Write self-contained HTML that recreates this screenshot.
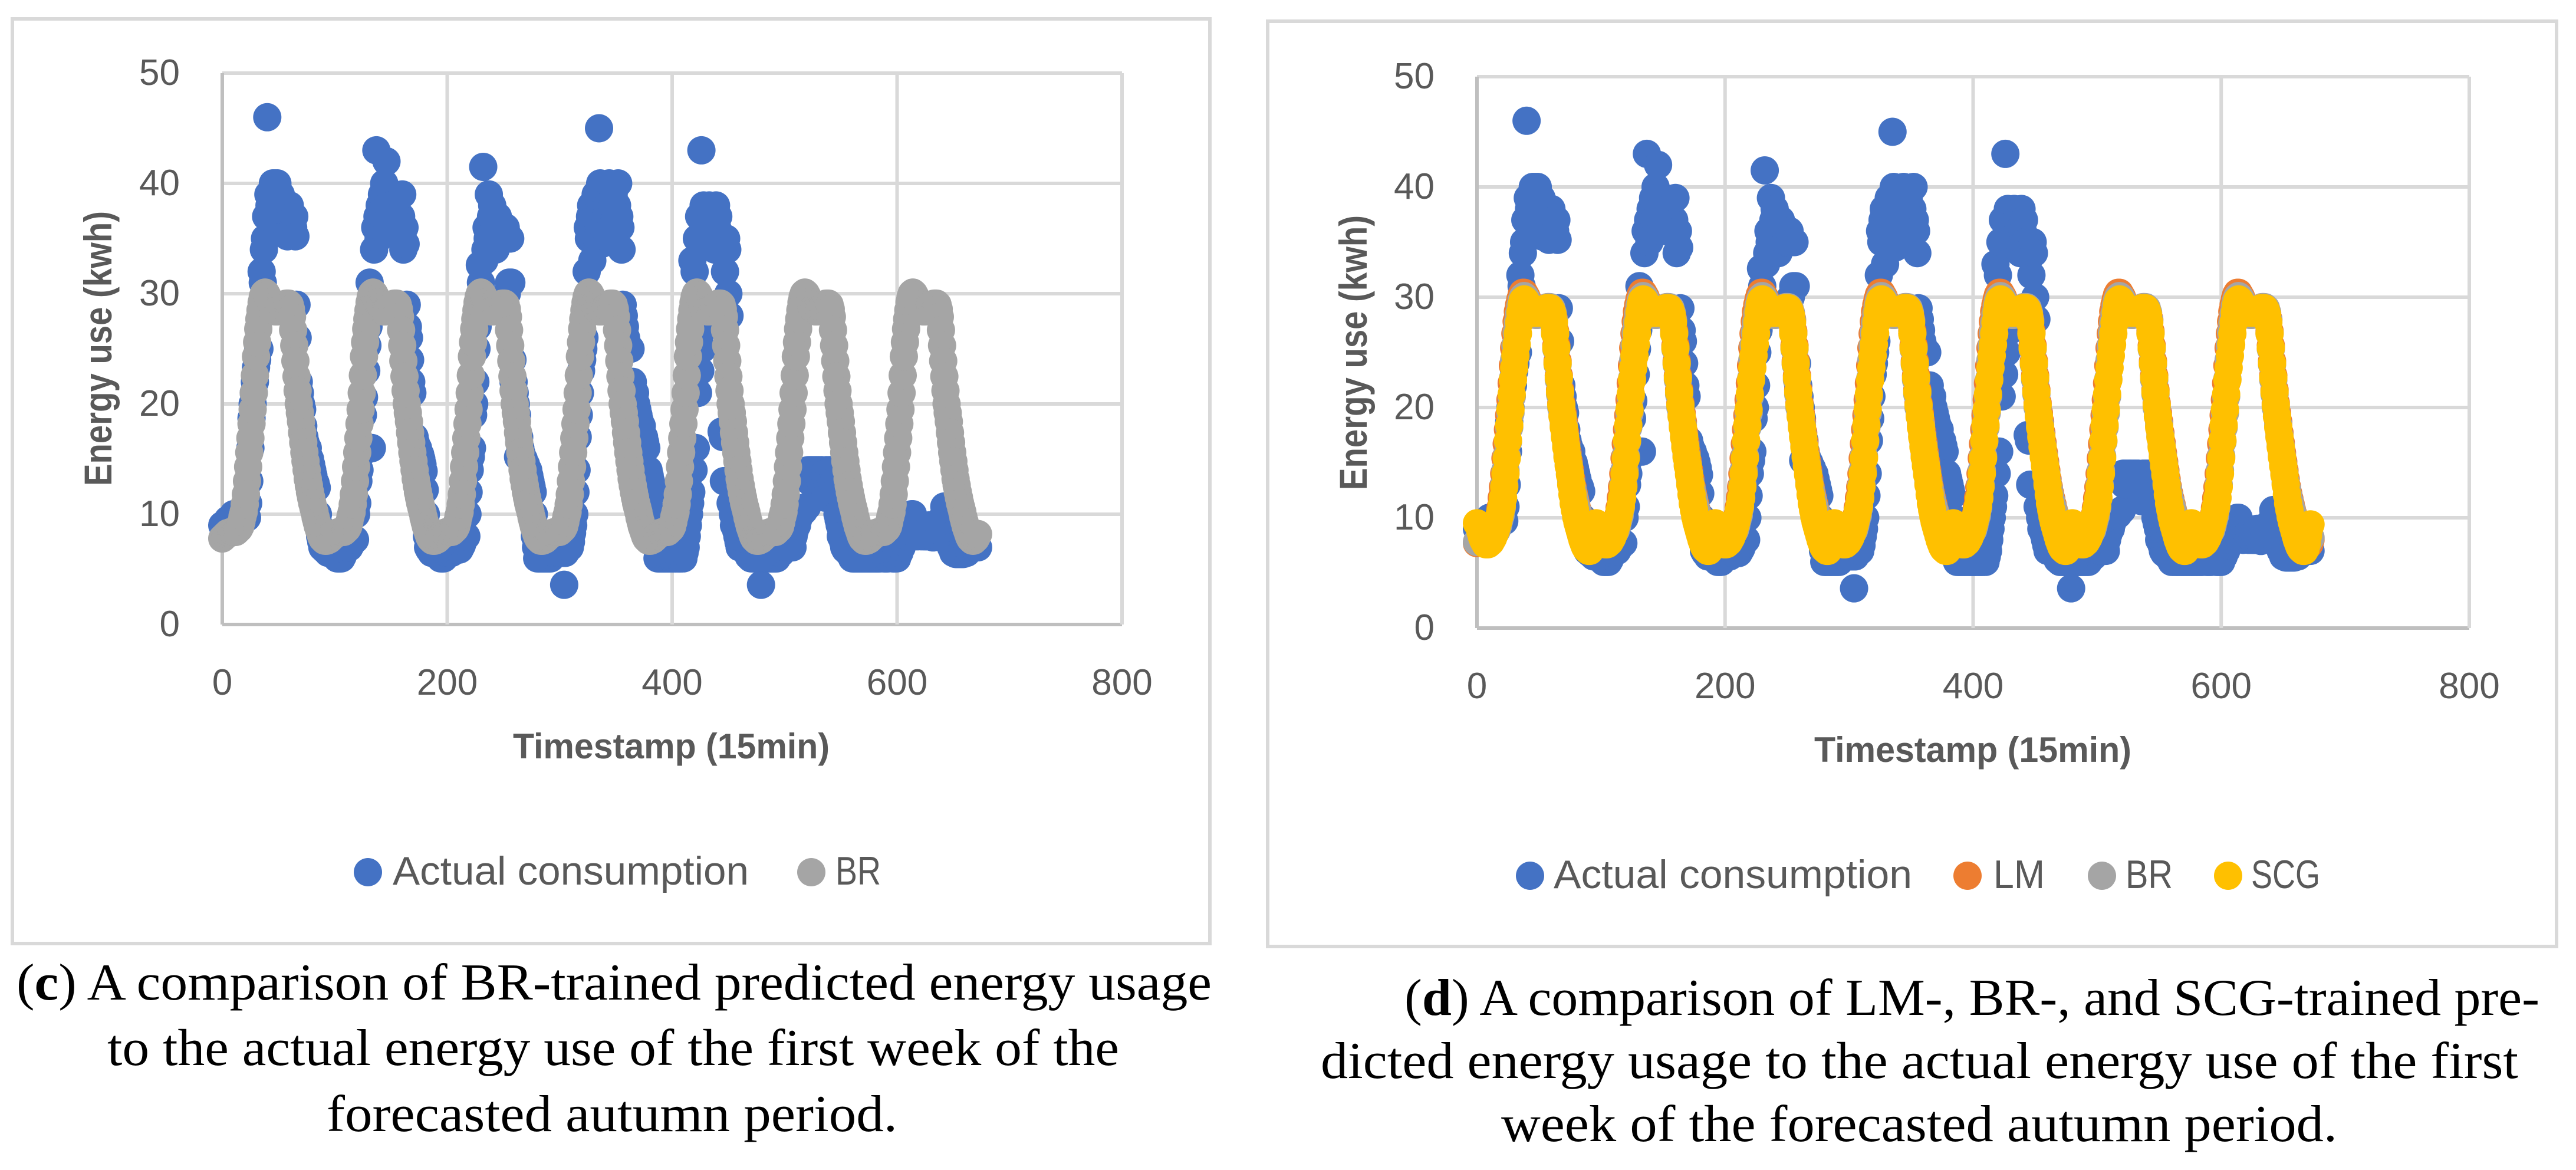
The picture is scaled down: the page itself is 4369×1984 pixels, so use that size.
<!DOCTYPE html>
<html lang="en">
<head>
<meta charset="utf-8">
<title>Energy use comparison charts</title>
<style>
html,body{margin:0;padding:0;background:#fff;width:4369px;height:1984px;overflow:hidden}
svg{display:block}
.sans{font-family:"Liberation Sans",sans-serif;fill:#595959}
.cap{font-family:"Liberation Serif",serif;fill:#000;font-size:88px}
</style>
</head>
<body>
<svg id="figure" width="4369" height="1984" viewBox="0 0 4369 1984" xmlns="http://www.w3.org/2000/svg">
<rect width="4369" height="1984" fill="#fff"/>
<g id="chart-c">
<rect x="21" y="32" width="2031" height="1568" fill="#fff" stroke="#d9d9d9" stroke-width="6"/>
<g id="c-plot"></g>
<text class="sans" font-weight="bold" font-size="66" text-anchor="middle" textLength="466" lengthAdjust="spacingAndGlyphs" transform="translate(189,591) rotate(-90)">Energy use (kwh)</text>
<text class="sans" font-weight="bold" font-size="60" x="870" y="1286" textLength="537" lengthAdjust="spacingAndGlyphs">Timestamp (15min)</text>
<g>
<circle cx="624" cy="1479" r="24" fill="#4472c4"/>
<text class="sans" font-size="68" x="666" y="1500" textLength="604" lengthAdjust="spacingAndGlyphs">Actual consumption</text>
<circle cx="1376" cy="1479" r="24" fill="#a5a5a5"/>
<text class="sans" font-size="68" x="1417" y="1500" textLength="77" lengthAdjust="spacingAndGlyphs">BR</text>
</g>
</g>
<g id="chart-d">
<rect x="2150" y="36" width="2186" height="1569" fill="#fff" stroke="#d9d9d9" stroke-width="6"/>
<g id="d-plot"></g>
<text class="sans" font-weight="bold" font-size="66" text-anchor="middle" textLength="466" lengthAdjust="spacingAndGlyphs" transform="translate(2318,598) rotate(-90)">Energy use (kwh)</text>
<text class="sans" font-weight="bold" font-size="60" x="3077" y="1292" textLength="538" lengthAdjust="spacingAndGlyphs">Timestamp (15min)</text>
<g>
<circle cx="2595" cy="1485" r="24" fill="#4472c4"/>
<text class="sans" font-size="68" x="2635" y="1506" textLength="608" lengthAdjust="spacingAndGlyphs">Actual consumption</text>
<circle cx="3337" cy="1485" r="24" fill="#ed7d31"/>
<text class="sans" font-size="68" x="3381" y="1506" textLength="87" lengthAdjust="spacingAndGlyphs">LM</text>
<circle cx="3565" cy="1485" r="24" fill="#a5a5a5"/>
<text class="sans" font-size="68" x="3605" y="1506" textLength="80" lengthAdjust="spacingAndGlyphs">BR</text>
<circle cx="3779" cy="1485" r="24" fill="#ffc000"/>
<text class="sans" font-size="68" x="3818" y="1506" textLength="117" lengthAdjust="spacingAndGlyphs">SCG</text>
</g>
</g>
<g>
<text class="cap" x="28" y="1695" textLength="2027" lengthAdjust="spacingAndGlyphs">(<tspan font-weight="bold">c</tspan>) A comparison of BR-trained predicted energy usage</text>
<text class="cap" x="182" y="1806" textLength="1716" lengthAdjust="spacingAndGlyphs">to the actual energy use of the first week of the</text>
<text class="cap" x="554" y="1918" textLength="968" lengthAdjust="spacingAndGlyphs">forecasted autumn period.</text>
</g>
<g>
<text class="cap" x="2382" y="1721" textLength="1925" lengthAdjust="spacingAndGlyphs">(<tspan font-weight="bold">d</tspan>) A comparison of LM-, BR-, and SCG-trained pre-</text>
<text class="cap" x="2240" y="1828" textLength="2031" lengthAdjust="spacingAndGlyphs">dicted energy usage to the actual energy use of the first</text>
<text class="cap" x="2546" y="1935" textLength="1418" lengthAdjust="spacingAndGlyphs">week of the forecasted autumn period.</text>
</g>
</svg>
<script>
const xTickLabels=[0,200,400,600,800];
const yTickLabels=[0,10,20,30,40,50];
const actualValues=[
9,9,9,9.2,9.2,9.5,9.5,9.5,9.6,9.6,10,10,
10,10,10,10,9.8,9.8,9.8,9.8,9.8,9.7,9.7,11,
13,16,18.7,20,21,22,23.3,24,25,25,28,32,
31,34,35,37,46,39,38,37,39,40,38,40,
37,40,38,36,39,35.5,37,36,38,36,35.2,37,
38,36,37,36,37,35.2,29,26,22,21,20,19.5,
18,17,16.5,16,16,15.2,15,14.5,14,13.5,13,12.8,
12.4,10,9,8,7.5,7,7,6.8,6.8,6.8,6.5,6.5,
6.5,6.5,6.5,6.5,6.5,6.2,6,6,6,6,6,6.2,
6.5,6.8,6.8,7,7,7,7.2,7.5,7.5,7.7,7.7,10,
11,13,14,15.4,16,19,20.6,22.9,23,25.3,27,31,
29,16,30,34,36,43,37,35,38,36,39,37,
40,39,42,38,37,36,38,36,37,36,38,37,
36,37,36,37,39,34,36,34.5,29,27,26,24,
22,21,17,17,16.5,16,16,15.5,15.4,15,14.5,13.9,
12.2,10,8,7,6.8,6.8,6.5,6.5,6.5,6.5,6.5,6.5,
6.3,6.2,6,6,6,6,6.2,6.5,6.5,6.5,6.5,6.5,
6.5,6.8,6.8,6.8,6.8,6.8,6.8,6.8,7,7.2,7.5,7.9,
8,8,10,12,14,15.2,16,19,20,22,25,27,
28,32.6,31,30,41.5,33,34,36,35,39,36,37,
38,35,36,34,36,37,35,36,35,35,35,35,
36,30,35,31,35,31,24,22,21,20,19,15.2,
17,16,15.5,15,15,14.5,14.5,14,14,13.5,13,12.5,
12,10,8,7,6,6,6,6,6,6,6,6,
6,6,6,6,6,6.2,6.5,6.5,6.5,6.5,6.5,6.5,
6.5,6.5,6.5,6.5,3.6,6.5,6.8,6.8,7,7,7.5,8.3,
9,10,12,14,17,19,21,23,24,25,26,28,
32,36,35,37,38,33,36,37,39,35,37,45,
40,34.5,38,36,39,37,38,35,40,37,36,38,
39,38,37,38,40,37,36,34,29,28,27,26,
25.5,25,25,25,22,22,21,21,20,19.5,19,18.5,
18,18,17,17,16.5,16,14,14,13.5,13,12.5,12,
10,8,7,6,6,6,6,6,6,6,6,6,
6,6,6,6,6,6,6,6,6,6,6,6,
6,8.4,6,6.5,7,8,9,10,11,12,33,14,
32,16,35,21,37,23,43,25,38,36,27,35,
36,38,35,37,36,35,34,38,36,37,35,34,
17.5,17,13,32,35,34,30,28,11,11,10,9,
9,8.5,8,7.5,7,7,7,7,6.8,6.8,6.8,6.5,
6.2,6.2,6,6,6,6,6,6,6,6,6,3.6,
6,6,6,6,6,6,6,6,6,6,6,6,
6,6,6.2,6.5,6.5,6.5,6.8,6.8,7,7,7,7,
7,7,7,7,8,8.5,9,9,9.5,10,10,10.2,
10.2,10.3,10.5,10.6,10.7,14,13,14,13,14,13.5,14,
13,14,13.5,14,13,14,13,12.5,11.5,14,13,14,
13.5,14,13,14,13,12,11,10,9.5,9,8,8,
7.5,7,6.8,6.8,6.8,6.5,6.5,6.5,6,6,6,6,
6,6,6,6,6,6,6,6,6,6,6,6,
6,6,6,6,6,6,6,6,6,6,6.5,6.5,
6,6,6,6,6,6.5,6.5,6.5,6,6,6,6,
6,6.5,6.5,7,7,7.5,7.5,8,8,8,8.5,8.5,
9,10,10,9.5,9,8.5,8,8.5,9,8.5,8,8.3,
8.3,8,8,8.5,8,9,8,8,7.9,8,8,8.5,
8,9,8.5,9.5,9,9,10.7,10,9,9,8,8,
7,7,6.5,6.5,6.4,6.4,6.4,6.4,6.4,6.4,6.4,6.4,
6.5,6.5,6.5,6.8,6.8,7,7,7,7,7,7,7,
7];
const brValues=[
7.8,7.9,8,8.1,8.2,8.3,8.3,8.3,8.4,8.4,8.4,8.4,
8.4,8.5,8.6,8.7,8.9,9.3,9.8,10.2,10.9,11.8,13,14.3,
15.6,16.9,18.2,19.5,21,22.6,24.3,25.6,26.8,27.7,28.5,29.2,
29.7,30,30.1,30,29.8,29.5,29.2,29,28.8,28.6,28.5,28.4,
28.4,28.4,28.5,28.5,28.6,28.7,28.8,28.9,29,29.1,29.1,29.1,
29,28.6,27.9,26.7,25.3,23.9,22.5,21.2,20,19.2,18.4,17.4,
16.5,15.6,14.8,14,13.2,12.6,12,11.5,11,10.6,10.2,9.7,
9.3,8.9,8.6,8.3,8,7.8,7.7,7.6,7.6,7.6,7.7,7.7,
7.8,7.9,8,8.1,8.2,8.3,8.3,8.3,8.4,8.4,8.4,8.4,
8.4,8.5,8.6,8.7,8.9,9.3,9.8,10.2,10.9,11.8,13,14.3,
15.6,16.9,18.2,19.5,21,22.6,24.3,25.6,26.8,27.7,28.5,29.2,
29.7,30,30.1,30,29.8,29.5,29.2,29,28.8,28.6,28.5,28.4,
28.4,28.4,28.5,28.5,28.6,28.7,28.8,28.9,29,29.1,29.1,29.1,
29,28.6,27.9,26.7,25.3,23.9,22.5,21.2,20,19.2,18.4,17.4,
16.5,15.6,14.8,14,13.2,12.6,12,11.5,11,10.6,10.2,9.7,
9.3,8.9,8.6,8.3,8,7.8,7.7,7.6,7.6,7.6,7.7,7.7,
7.8,7.9,8,8.1,8.2,8.3,8.3,8.3,8.4,8.4,8.4,8.4,
8.4,8.5,8.6,8.7,8.9,9.3,9.8,10.2,10.9,11.8,13,14.3,
15.6,16.9,18.2,19.5,21,22.6,24.3,25.6,26.8,27.7,28.5,29.2,
29.7,30,30.1,30,29.8,29.5,29.2,29,28.8,28.6,28.5,28.4,
28.4,28.4,28.5,28.5,28.6,28.7,28.8,28.9,29,29.1,29.1,29.1,
29,28.6,27.9,26.7,25.3,23.9,22.5,21.2,20,19.2,18.4,17.4,
16.5,15.6,14.8,14,13.2,12.6,12,11.5,11,10.6,10.2,9.7,
9.3,8.9,8.6,8.3,8,7.8,7.7,7.6,7.6,7.6,7.7,7.7,
7.8,7.9,8,8.1,8.2,8.3,8.3,8.3,8.4,8.4,8.4,8.4,
8.4,8.5,8.6,8.7,8.9,9.3,9.8,10.2,10.9,11.8,13,14.3,
15.6,16.9,18.2,19.5,21,22.6,24.3,25.6,26.8,27.7,28.5,29.2,
29.7,30,30.1,30,29.8,29.5,29.2,29,28.8,28.6,28.5,28.4,
28.4,28.4,28.5,28.5,28.6,28.7,28.8,28.9,29,29.1,29.1,29.1,
29,28.6,27.9,26.7,25.3,23.9,22.5,21.2,20,19.2,18.4,17.4,
16.5,15.6,14.8,14,13.2,12.6,12,11.5,11,10.6,10.2,9.7,
9.3,8.9,8.6,8.3,8,7.8,7.7,7.6,7.6,7.6,7.7,7.7,
7.8,7.9,8,8.1,8.2,8.3,8.3,8.3,8.4,8.4,8.4,8.4,
8.4,8.5,8.6,8.7,8.9,9.3,9.8,10.2,10.9,11.8,13,14.3,
15.6,16.9,18.2,19.5,21,22.6,24.3,25.6,26.8,27.7,28.5,29.2,
29.7,30,30.1,30,29.8,29.5,29.2,29,28.8,28.6,28.5,28.4,
28.4,28.4,28.5,28.5,28.6,28.7,28.8,28.9,29,29.1,29.1,29.1,
29,28.6,27.9,26.7,25.3,23.9,22.5,21.2,20,19.2,18.4,17.4,
16.5,15.6,14.8,14,13.2,12.6,12,11.5,11,10.6,10.2,9.7,
9.3,8.9,8.6,8.3,8,7.8,7.7,7.6,7.6,7.6,7.7,7.7,
7.8,7.9,8,8.1,8.2,8.3,8.3,8.3,8.4,8.4,8.4,8.4,
8.4,8.5,8.6,8.7,8.9,9.3,9.8,10.2,10.9,11.8,13,14.3,
15.6,16.9,18.2,19.5,21,22.6,24.3,25.6,26.8,27.7,28.5,29.2,
29.7,30,30.1,30,29.8,29.5,29.2,29,28.8,28.6,28.5,28.4,
28.4,28.4,28.5,28.5,28.6,28.7,28.8,28.9,29,29.1,29.1,29.1,
29,28.6,27.9,26.7,25.3,23.9,22.5,21.2,20,19.2,18.4,17.4,
16.5,15.6,14.8,14,13.2,12.6,12,11.5,11,10.6,10.2,9.7,
9.3,8.9,8.6,8.3,8,7.8,7.7,7.6,7.6,7.6,7.7,7.7,
7.8,7.9,8,8.1,8.2,8.3,8.3,8.3,8.4,8.4,8.4,8.4,
8.4,8.5,8.6,8.7,8.9,9.3,9.8,10.2,10.9,11.8,13,14.3,
15.6,16.9,18.2,19.5,21,22.6,24.3,25.6,26.8,27.7,28.5,29.2,
29.7,30,30.1,30,29.8,29.5,29.2,29,28.8,28.6,28.5,28.4,
28.4,28.4,28.5,28.5,28.6,28.7,28.8,28.9,29,29.1,29.1,29.1,
29,28.6,27.9,26.7,25.3,23.9,22.5,21.2,20,19.2,18.4,17.4,
16.5,15.6,14.8,14,13.2,12.6,12,11.5,11,10.6,10.2,9.7,
9.3,8.9,8.6,8.3,8,7.8,7.7,7.6,7.6,7.7,7.8,8,
8.2];
const lmValues=[
7.7,7.8,7.9,8,8.1,8.2,8.2,8.3,8.3,8.4,8.4,8.5,
8.5,8.6,8.7,8.9,9.2,9.6,10.2,10.9,11.8,12.8,14,15.4,
16.7,18,19.3,20.7,22.2,23.8,25.4,26.7,27.8,28.7,29.3,29.8,
30.2,30.4,30.4,30.2,30,29.7,29.3,29,28.8,28.7,28.6,28.5,
28.5,28.5,28.6,28.6,28.7,28.8,28.9,29,29,29.1,29.1,29,
28.9,28.6,28,26.9,25.6,24.2,22.9,21.6,20.4,19.5,18.7,17.7,
16.8,15.9,15.1,14.3,13.5,12.8,12.2,11.7,11.2,10.7,10.3,9.8,
9.4,9,8.6,8.3,8,7.8,7.6,7.5,7.5,7.5,7.5,7.6,
7.7,7.8,7.9,8,8.1,8.2,8.2,8.3,8.3,8.4,8.4,8.5,
8.5,8.6,8.7,8.9,9.2,9.6,10.2,10.9,11.8,12.8,14,15.4,
16.7,18,19.3,20.7,22.2,23.8,25.4,26.7,27.8,28.7,29.3,29.8,
30.2,30.4,30.4,30.2,30,29.7,29.3,29,28.8,28.7,28.6,28.5,
28.5,28.5,28.6,28.6,28.7,28.8,28.9,29,29,29.1,29.1,29,
28.9,28.6,28,26.9,25.6,24.2,22.9,21.6,20.4,19.5,18.7,17.7,
16.8,15.9,15.1,14.3,13.5,12.8,12.2,11.7,11.2,10.7,10.3,9.8,
9.4,9,8.6,8.3,8,7.8,7.6,7.5,7.5,7.5,7.5,7.6,
7.7,7.8,7.9,8,8.1,8.2,8.2,8.3,8.3,8.4,8.4,8.5,
8.5,8.6,8.7,8.9,9.2,9.6,10.2,10.9,11.8,12.8,14,15.4,
16.7,18,19.3,20.7,22.2,23.8,25.4,26.7,27.8,28.7,29.3,29.8,
30.2,30.4,30.4,30.2,30,29.7,29.3,29,28.8,28.7,28.6,28.5,
28.5,28.5,28.6,28.6,28.7,28.8,28.9,29,29,29.1,29.1,29,
28.9,28.6,28,26.9,25.6,24.2,22.9,21.6,20.4,19.5,18.7,17.7,
16.8,15.9,15.1,14.3,13.5,12.8,12.2,11.7,11.2,10.7,10.3,9.8,
9.4,9,8.6,8.3,8,7.8,7.6,7.5,7.5,7.5,7.5,7.6,
7.7,7.8,7.9,8,8.1,8.2,8.2,8.3,8.3,8.4,8.4,8.5,
8.5,8.6,8.7,8.9,9.2,9.6,10.2,10.9,11.8,12.8,14,15.4,
16.7,18,19.3,20.7,22.2,23.8,25.4,26.7,27.8,28.7,29.3,29.8,
30.2,30.4,30.4,30.2,30,29.7,29.3,29,28.8,28.7,28.6,28.5,
28.5,28.5,28.6,28.6,28.7,28.8,28.9,29,29,29.1,29.1,29,
28.9,28.6,28,26.9,25.6,24.2,22.9,21.6,20.4,19.5,18.7,17.7,
16.8,15.9,15.1,14.3,13.5,12.8,12.2,11.7,11.2,10.7,10.3,9.8,
9.4,9,8.6,8.3,8,7.8,7.6,7.5,7.5,7.5,7.5,7.6,
7.7,7.8,7.9,8,8.1,8.2,8.2,8.3,8.3,8.4,8.4,8.5,
8.5,8.6,8.7,8.9,9.2,9.6,10.2,10.9,11.8,12.8,14,15.4,
16.7,18,19.3,20.7,22.2,23.8,25.4,26.7,27.8,28.7,29.3,29.8,
30.2,30.4,30.4,30.2,30,29.7,29.3,29,28.8,28.7,28.6,28.5,
28.5,28.5,28.6,28.6,28.7,28.8,28.9,29,29,29.1,29.1,29,
28.9,28.6,28,26.9,25.6,24.2,22.9,21.6,20.4,19.5,18.7,17.7,
16.8,15.9,15.1,14.3,13.5,12.8,12.2,11.7,11.2,10.7,10.3,9.8,
9.4,9,8.6,8.3,8,7.8,7.6,7.5,7.5,7.5,7.5,7.6,
7.7,7.8,7.9,8,8.1,8.2,8.2,8.3,8.3,8.4,8.4,8.5,
8.5,8.6,8.7,8.9,9.2,9.6,10.2,10.9,11.8,12.8,14,15.4,
16.7,18,19.3,20.7,22.2,23.8,25.4,26.7,27.8,28.7,29.3,29.8,
30.2,30.4,30.4,30.2,30,29.7,29.3,29,28.8,28.7,28.6,28.5,
28.5,28.5,28.6,28.6,28.7,28.8,28.9,29,29,29.1,29.1,29,
28.9,28.6,28,26.9,25.6,24.2,22.9,21.6,20.4,19.5,18.7,17.7,
16.8,15.9,15.1,14.3,13.5,12.8,12.2,11.7,11.2,10.7,10.3,9.8,
9.4,9,8.6,8.3,8,7.8,7.6,7.5,7.5,7.5,7.5,7.6,
7.7,7.8,7.9,8,8.1,8.2,8.2,8.3,8.3,8.4,8.4,8.5,
8.5,8.6,8.7,8.9,9.2,9.6,10.2,10.9,11.8,12.8,14,15.4,
16.7,18,19.3,20.7,22.2,23.8,25.4,26.7,27.8,28.7,29.3,29.8,
30.2,30.4,30.4,30.2,30,29.7,29.3,29,28.8,28.7,28.6,28.5,
28.5,28.5,28.6,28.6,28.7,28.8,28.9,29,29,29.1,29.1,29,
28.9,28.6,28,26.9,25.6,24.2,22.9,21.6,20.4,19.5,18.7,17.7,
16.8,15.9,15.1,14.3,13.5,12.8,12.2,11.7,11.2,10.7,10.3,9.8,
9.4,9,8.6,8.3,8,7.8,7.6,7.5,7.5,7.5,7.5,7.6,
8];
const scgValues=[
9.5,9.4,9.1,8.7,8.3,8,7.8,7.6,7.6,7.6,7.7,7.8,
8,8.2,8.5,8.8,9.2,9.6,10.1,10.6,11.1,11.8,12.8,14,
15.4,17,18.4,19.8,21.2,22.5,23.6,24.7,25.7,26.7,27.7,28.6,
29.3,29.7,29.8,29.7,29.5,29.3,29,28.8,28.7,28.6,28.6,28.6,
28.6,28.6,28.7,28.7,28.8,28.8,28.9,28.9,29,29,29,29,
28.8,28.4,27.7,26.7,25.4,24,22.7,21.4,20.2,19.2,18.2,17.3,
16.4,15.5,14.7,13.9,13,12.1,11.3,10.7,10.1,9.6,9.2,8.8,
8.4,8,7.7,7.4,7.2,7.1,7,7,7.2,7.7,8.4,9.1,
9.5,9.4,9.1,8.7,8.3,8,7.8,7.6,7.6,7.6,7.7,7.8,
8,8.2,8.5,8.8,9.2,9.6,10.1,10.6,11.1,11.8,12.8,14,
15.4,17,18.4,19.8,21.2,22.5,23.6,24.7,25.7,26.7,27.7,28.6,
29.3,29.7,29.8,29.7,29.5,29.3,29,28.8,28.7,28.6,28.6,28.6,
28.6,28.6,28.7,28.7,28.8,28.8,28.9,28.9,29,29,29,29,
28.8,28.4,27.7,26.7,25.4,24,22.7,21.4,20.2,19.2,18.2,17.3,
16.4,15.5,14.7,13.9,13,12.1,11.3,10.7,10.1,9.6,9.2,8.8,
8.4,8,7.7,7.4,7.2,7.1,7,7,7.2,7.7,8.4,9.1,
9.5,9.4,9.1,8.7,8.3,8,7.8,7.6,7.6,7.6,7.7,7.8,
8,8.2,8.5,8.8,9.2,9.6,10.1,10.6,11.1,11.8,12.8,14,
15.4,17,18.4,19.8,21.2,22.5,23.6,24.7,25.7,26.7,27.7,28.6,
29.3,29.7,29.8,29.7,29.5,29.3,29,28.8,28.7,28.6,28.6,28.6,
28.6,28.6,28.7,28.7,28.8,28.8,28.9,28.9,29,29,29,29,
28.8,28.4,27.7,26.7,25.4,24,22.7,21.4,20.2,19.2,18.2,17.3,
16.4,15.5,14.7,13.9,13,12.1,11.3,10.7,10.1,9.6,9.2,8.8,
8.4,8,7.7,7.4,7.2,7.1,7,7,7.2,7.7,8.4,9.1,
9.5,9.4,9.1,8.7,8.3,8,7.8,7.6,7.6,7.6,7.7,7.8,
8,8.2,8.5,8.8,9.2,9.6,10.1,10.6,11.1,11.8,12.8,14,
15.4,17,18.4,19.8,21.2,22.5,23.6,24.7,25.7,26.7,27.7,28.6,
29.3,29.7,29.8,29.7,29.5,29.3,29,28.8,28.7,28.6,28.6,28.6,
28.6,28.6,28.7,28.7,28.8,28.8,28.9,28.9,29,29,29,29,
28.8,28.4,27.7,26.7,25.4,24,22.7,21.4,20.2,19.2,18.2,17.3,
16.4,15.5,14.7,13.9,13,12.1,11.3,10.7,10.1,9.6,9.2,8.8,
8.4,8,7.7,7.4,7.2,7.1,7,7,7.2,7.7,8.4,9.1,
9.5,9.4,9.1,8.7,8.3,8,7.8,7.6,7.6,7.6,7.7,7.8,
8,8.2,8.5,8.8,9.2,9.6,10.1,10.6,11.1,11.8,12.8,14,
15.4,17,18.4,19.8,21.2,22.5,23.6,24.7,25.7,26.7,27.7,28.6,
29.3,29.7,29.8,29.7,29.5,29.3,29,28.8,28.7,28.6,28.6,28.6,
28.6,28.6,28.7,28.7,28.8,28.8,28.9,28.9,29,29,29,29,
28.8,28.4,27.7,26.7,25.4,24,22.7,21.4,20.2,19.2,18.2,17.3,
16.4,15.5,14.7,13.9,13,12.1,11.3,10.7,10.1,9.6,9.2,8.8,
8.4,8,7.7,7.4,7.2,7.1,7,7,7.2,7.7,8.4,9.1,
9.5,9.4,9.1,8.7,8.3,8,7.8,7.6,7.6,7.6,7.7,7.8,
8,8.2,8.5,8.8,9.2,9.6,10.1,10.6,11.1,11.8,12.8,14,
15.4,17,18.4,19.8,21.2,22.5,23.6,24.7,25.7,26.7,27.7,28.6,
29.3,29.7,29.8,29.7,29.5,29.3,29,28.8,28.7,28.6,28.6,28.6,
28.6,28.6,28.7,28.7,28.8,28.8,28.9,28.9,29,29,29,29,
28.8,28.4,27.7,26.7,25.4,24,22.7,21.4,20.2,19.2,18.2,17.3,
16.4,15.5,14.7,13.9,13,12.1,11.3,10.7,10.1,9.6,9.2,8.8,
8.4,8,7.7,7.4,7.2,7.1,7,7,7.2,7.7,8.4,9.1,
9.5,9.4,9.1,8.7,8.3,8,7.8,7.6,7.6,7.6,7.7,7.8,
8,8.2,8.5,8.8,9.2,9.6,10.1,10.6,11.1,11.8,12.8,14,
15.4,17,18.4,19.8,21.2,22.5,23.6,24.7,25.7,26.7,27.7,28.6,
29.3,29.7,29.8,29.7,29.5,29.3,29,28.8,28.7,28.6,28.6,28.6,
28.6,28.6,28.7,28.7,28.8,28.8,28.9,28.9,29,29,29,29,
28.8,28.4,27.7,26.7,25.4,24,22.7,21.4,20.2,19.2,18.2,17.3,
16.4,15.5,14.7,13.9,13,12.1,11.3,10.7,10.1,9.6,9.2,8.8,
8.4,8,7.7,7.4,7.2,7.1,7,7,7.2,7.7,8.4,9.1,
9.4];

const NS='http://www.w3.org/2000/svg';
const MARKER_RADIUS=24;
const COLOR_ACTUAL='#4472c4';
const COLOR_LM='#ed7d31';
const COLOR_BR='#a5a5a5';
const COLOR_SCG='#ffc000';

function makeXAxis(left,right){
  return function(v){return left+(v/xTickLabels[xTickLabels.length-1])*(right-left);};
}
function makeYAxis(bottom,top){
  return function(v){return bottom-(v/yTickLabels[yTickLabels.length-1])*(bottom-top);};
}

function drawAxes(host,xAxis,yAxis,labelRight,xLabelBaseline){
  yTickLabels.forEach(function(t){
    const line=document.createElementNS(NS,'line');
    line.setAttribute('x1',xAxis(0));
    line.setAttribute('x2',xAxis(xTickLabels[xTickLabels.length-1]));
    line.setAttribute('y1',yAxis(t));
    line.setAttribute('y2',yAxis(t));
    line.setAttribute('stroke',t===0?'#bfbfbf':'#d9d9d9');
    line.setAttribute('stroke-width','6');
    
    
    host.appendChild(line);
    const label=document.createElementNS(NS,'text');
    label.setAttribute('x',labelRight);
    label.setAttribute('y',yAxis(t)+20);
    label.setAttribute('text-anchor','end');
    label.setAttribute('class','sans');
    label.setAttribute('font-size','62');
    
    
    label.textContent=t;
    host.appendChild(label);
  });
  xTickLabels.slice().reverse().forEach(function(t){
    const line=document.createElementNS(NS,'line');
    line.setAttribute('x1',xAxis(t));
    line.setAttribute('x2',xAxis(t));
    line.setAttribute('y1',yAxis(0));
    line.setAttribute('y2',yAxis(yTickLabels[yTickLabels.length-1]));
    line.setAttribute('stroke',t===0?'#bfbfbf':'#d9d9d9');
    line.setAttribute('stroke-width','6');
    
    
    host.appendChild(line);
    const label=document.createElementNS(NS,'text');
    label.setAttribute('x',xAxis(t));
    label.setAttribute('y',xLabelBaseline);
    label.setAttribute('text-anchor','middle');
    label.setAttribute('class','sans');
    label.setAttribute('font-size','62');
    
    
    label.textContent=t;
    host.appendChild(label);
  });
}

function drawSeries(host,name,values,color,xAxis,yAxis){
  const group=document.createElementNS(NS,'g');
  group.setAttribute('fill',color);
  
  
  values.forEach(function(v,i){
    const dot=document.createElementNS(NS,'circle');
    dot.setAttribute('cx',xAxis(i));
    dot.setAttribute('cy',yAxis(v));
    dot.setAttribute('r',MARKER_RADIUS);
    
    
    group.appendChild(dot);
  });
  host.appendChild(group);
}

const xAxisC=makeXAxis(377,1903);
const yAxisC=makeYAxis(1059,124);
const plotC=document.getElementById('c-plot');
drawAxes(plotC,xAxisC,yAxisC,305,1178);
drawSeries(plotC,'actual-consumption',actualValues,COLOR_ACTUAL,xAxisC,yAxisC);
drawSeries(plotC,'br',brValues,COLOR_BR,xAxisC,yAxisC);

const xAxisD=makeXAxis(2505,4188);
const yAxisD=makeYAxis(1065,130);
const plotD=document.getElementById('d-plot');
drawAxes(plotD,xAxisD,yAxisD,2433,1184);
drawSeries(plotD,'actual-consumption',actualValues,COLOR_ACTUAL,xAxisD,yAxisD);
drawSeries(plotD,'lm',lmValues,COLOR_LM,xAxisD,yAxisD);
drawSeries(plotD,'br',brValues,COLOR_BR,xAxisD,yAxisD);
drawSeries(plotD,'scg',scgValues,COLOR_SCG,xAxisD,yAxisD);
</script>
</body>
</html>
